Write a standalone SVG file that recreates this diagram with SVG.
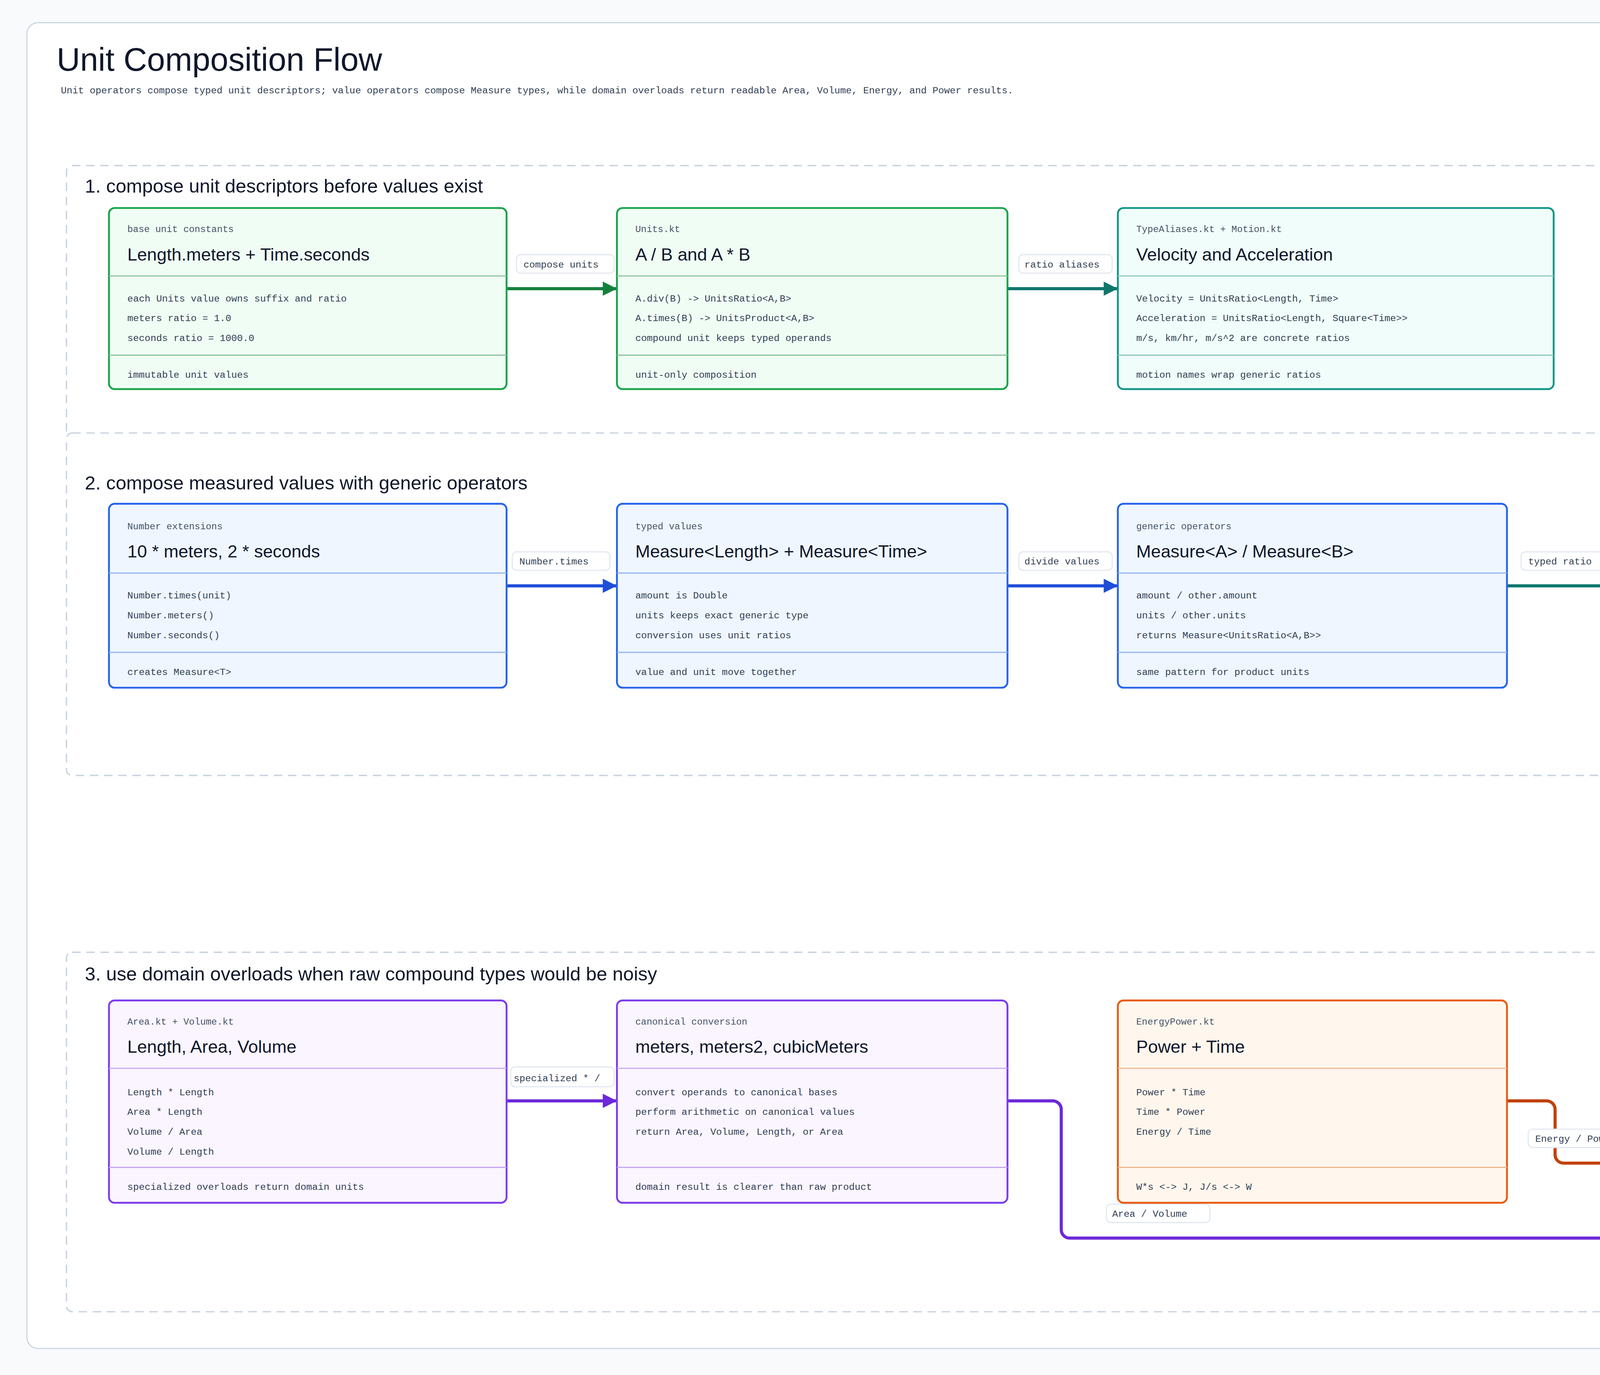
<svg xmlns="http://www.w3.org/2000/svg" width="5680" height="3520" viewBox="0 0 5680 3520">
<style>
.h{font-family:"Liberation Sans",Arial,sans-serif;fill:#0f172a}
.m{font-family:"Liberation Mono","DejaVu Sans Mono",monospace;fill:#334155;font-size:6.8px}
.sub{font-size:6.6px;fill:#475569}
.t{font-size:12.5px}
.sec{fill:none;stroke:#cbd5e1;stroke-width:1;stroke-dasharray:6 4}
.lb{fill:#fff;stroke:#e2e8f0;stroke-width:0.8}
.e{fill:none;stroke-width:2.2}
</style>
<defs>
<marker id="ag" markerUnits="userSpaceOnUse" markerWidth="10" markerHeight="10" refX="10" refY="5" orient="auto"><path d="M0,0L10,5L0,10z" fill="#15803d"/></marker>
<marker id="at" markerUnits="userSpaceOnUse" markerWidth="10" markerHeight="10" refX="10" refY="5" orient="auto"><path d="M0,0L10,5L0,10z" fill="#0f766e"/></marker>
<marker id="ab" markerUnits="userSpaceOnUse" markerWidth="10" markerHeight="10" refX="10" refY="5" orient="auto"><path d="M0,0L10,5L0,10z" fill="#1d4ed8"/></marker>
<marker id="ap" markerUnits="userSpaceOnUse" markerWidth="10" markerHeight="10" refX="10" refY="5" orient="auto"><path d="M0,0L10,5L0,10z" fill="#6d28d9"/></marker>
<marker id="ao" markerUnits="userSpaceOnUse" markerWidth="10" markerHeight="10" refX="10" refY="5" orient="auto"><path d="M0,0L10,5L0,10z" fill="#c2410c"/></marker>
<marker id="as" markerUnits="userSpaceOnUse" markerWidth="8" markerHeight="8" refX="8" refY="4" orient="auto"><path d="M0,0L8,4L0,8z" fill="#475569"/></marker>
<marker id="at2" markerUnits="userSpaceOnUse" markerWidth="8" markerHeight="8" refX="8" refY="4" orient="auto"><path d="M0,0L8,4L0,8z" fill="#0f766e"/></marker>
</defs>
<rect width="5680" height="3520" fill="#f8fafc"/>
<g transform="scale(3.6224)">
<rect x="19" y="16" width="1530" height="937" rx="8" fill="#fff" stroke="#cbd5e1" stroke-width="0.8"/>
<text class="h" x="40" y="50" font-size="23">Unit Composition Flow</text>
<text class="m" x="43" y="66" font-size="7.2">Unit operators compose typed unit descriptors; value operators compose Measure types, while domain overloads return readable Area, Volume, Energy, and Power results.</text>

<g id="sections">
<path class="sec" d="M47,305 V121 a4,4 0 0 1 4,-4 H1131 a4,4 0 0 1 4,4 V305"/>
<rect class="sec" x="47" y="306" width="1419" height="242" rx="4"/>
<rect class="sec" x="47" y="673" width="1419" height="254" rx="4"/>
<text class="h" x="60" y="136" font-size="13.5">1. compose unit descriptors before values exist</text>
<text class="h" x="60" y="346" font-size="13.5">2. compose measured values with generic operators</text>
<text class="h" x="60" y="693" font-size="13.5">3. use domain overloads when raw compound types would be noisy</text>
</g>

<g id="connectors">
<path class="e" stroke="#15803d" d="M358,204H436" marker-end="url(#ag)"/>
<path class="e" stroke="#0f766e" d="M712,204H790" marker-end="url(#at)"/>
<path class="e" stroke="#1d4ed8" d="M358,414H436" marker-end="url(#ab)"/>
<path class="e" stroke="#1d4ed8" d="M712,414H790" marker-end="url(#ab)"/>
<path class="e" stroke="#0f766e" d="M1065,414H1143" marker-end="url(#at)"/>
<path class="e" stroke="#0f766e" stroke-dasharray="6 4" d="M1286,496V533" marker-end="url(#at2)"/>
<path class="e" stroke="#475569" stroke-dasharray="6 4" d="M1286,654V801" marker-end="url(#as)"/>
<path class="e" stroke="#6d28d9" d="M358,778H436" marker-end="url(#ap)"/>
<path class="e" stroke="#6d28d9" d="M712,778H744a6,6 0 0 1 6,6V869a6,6 0 0 0 6,6H1143" marker-end="url(#ap)"/>
<path class="e" stroke="#c2410c" d="M1065,778H1093a6,6 0 0 1 6,6V816a6,6 0 0 0 6,6H1143" marker-end="url(#ao)"/>
<rect class="lb" x="365" y="180" width="69" height="13" rx="3"/><text class="m" x="370" y="189">compose units</text>
<rect class="lb" x="720" y="180" width="66" height="13" rx="3"/><text class="m" x="724" y="189">ratio aliases</text>
<rect class="lb" x="362" y="390" width="69" height="13" rx="3"/><text class="m" x="367" y="399">Number.times</text>
<rect class="lb" x="720" y="390" width="66" height="13" rx="3"/><text class="m" x="724" y="399">divide values</text>
<rect class="lb" x="1075" y="390" width="65" height="13" rx="3"/><text class="m" x="1080" y="399">typed ratio</text>
<rect class="lb" x="1292" y="510" width="65" height="13" rx="3"/><text class="m" x="1297" y="519">convert</text>
<rect class="lb" x="1292" y="722" width="65" height="13" rx="3"/><text class="m" x="1297" y="731">format too</text>
<rect class="lb" x="361" y="754" width="73" height="14" rx="3"/><text class="m" x="363" y="764">specialized * /</text>
<rect class="lb" x="782" y="851" width="73" height="13" rx="3"/><text class="m" x="786" y="860">Area / Volume</text>
<rect class="lb" x="1080" y="798" width="70" height="13" rx="3"/><text class="m" x="1085" y="807">Energy / Power</text>
</g>

<g id="n1"><rect x="77" y="147" width="281" height="128" rx="4" fill="#f0fdf4" stroke="#16a34a" stroke-width="1.3"/><path d="M77,195H358M77,251H358" stroke="#86c29a" stroke-width="0.8"/>
<text class="m sub" x="90" y="164">base unit constants</text><text class="h t" x="90" y="184">Length.meters + Time.seconds</text>
<text class="m" x="90" y="213">each Units value owns suffix and ratio</text><text class="m" x="90" y="227">meters ratio = 1.0</text><text class="m" x="90" y="241">seconds ratio = 1000.0</text>
<text class="m" x="90" y="267">immutable unit values</text></g>

<g id="n2"><rect x="436" y="147" width="276" height="128" rx="4" fill="#f0fdf4" stroke="#16a34a" stroke-width="1.3"/><path d="M436,195H712M436,251H712" stroke="#86c29a" stroke-width="0.8"/>
<text class="m sub" x="449" y="164">Units.kt</text><text class="h t" x="449" y="184">A / B and A * B</text>
<text class="m" x="449" y="213">A.div(B) -&gt; UnitsRatio&lt;A,B&gt;</text><text class="m" x="449" y="227">A.times(B) -&gt; UnitsProduct&lt;A,B&gt;</text><text class="m" x="449" y="241">compound unit keeps typed operands</text>
<text class="m" x="449" y="267">unit-only composition</text></g>

<g id="n3"><rect x="790" y="147" width="308" height="128" rx="4" fill="#f0fdfa" stroke="#0f9488" stroke-width="1.3"/><path d="M790,195H1098M790,251H1098" stroke="#8cc7bd" stroke-width="0.8"/>
<text class="m sub" x="803" y="164">TypeAliases.kt + Motion.kt</text><text class="h t" x="803" y="184">Velocity and Acceleration</text>
<text class="m" x="803" y="213">Velocity = UnitsRatio&lt;Length, Time&gt;</text><text class="m" x="803" y="227">Acceleration = UnitsRatio&lt;Length, Square&lt;Time&gt;&gt;</text><text class="m" x="803" y="241">m/s, km/hr, m/s^2 are concrete ratios</text>
<text class="m" x="803" y="267">motion names wrap generic ratios</text></g>

<g id="n4"><rect x="77" y="356" width="281" height="130" rx="4" fill="#eff6ff" stroke="#2563eb" stroke-width="1.3"/><path d="M77,405H358M77,461H358" stroke="#93b4f0" stroke-width="0.8"/>
<text class="m sub" x="90" y="374">Number extensions</text><text class="h t" x="90" y="394">10 * meters, 2 * seconds</text>
<text class="m" x="90" y="423">Number.times(unit)</text><text class="m" x="90" y="437">Number.meters()</text><text class="m" x="90" y="451">Number.seconds()</text>
<text class="m" x="90" y="477">creates Measure&lt;T&gt;</text></g>

<g id="n5"><rect x="436" y="356" width="276" height="130" rx="4" fill="#eff6ff" stroke="#2563eb" stroke-width="1.3"/><path d="M436,405H712M436,461H712" stroke="#93b4f0" stroke-width="0.8"/>
<text class="m sub" x="449" y="374">typed values</text><text class="h t" x="449" y="394">Measure&lt;Length&gt; + Measure&lt;Time&gt;</text>
<text class="m" x="449" y="423">amount is Double</text><text class="m" x="449" y="437">units keeps exact generic type</text><text class="m" x="449" y="451">conversion uses unit ratios</text>
<text class="m" x="449" y="477">value and unit move together</text></g>

<g id="n6"><rect x="790" y="356" width="275" height="130" rx="4" fill="#eff6ff" stroke="#2563eb" stroke-width="1.3"/><path d="M790,405H1065M790,461H1065" stroke="#93b4f0" stroke-width="0.8"/>
<text class="m sub" x="803" y="374">generic operators</text><text class="h t" x="803" y="394">Measure&lt;A&gt; / Measure&lt;B&gt;</text>
<text class="m" x="803" y="423">amount / other.amount</text><text class="m" x="803" y="437">units / other.units</text><text class="m" x="803" y="451">returns Measure&lt;UnitsRatio&lt;A,B&gt;&gt;</text>
<text class="m" x="803" y="477">same pattern for product units</text></g>

<g id="n7"><rect x="1143" y="356" width="287" height="140" rx="4" fill="#f0fdfa" stroke="#0f9488" stroke-width="1.3"/><path d="M1143,405H1430M1143,471H1430" stroke="#8cc7bd" stroke-width="0.8"/>
<text class="m sub" x="1156" y="374">typed result</text><text class="h t" x="1156" y="394">Measure&lt;Velocity&gt;</text>
<text class="m" x="1156" y="423">10.meters() / 2.seconds()</text><text class="m" x="1156" y="437">speed in m/s = 5.0</text><text class="m" x="1156" y="451">speed * 5.seconds() restores Length</text>
<text class="m" x="1156" y="487">(A/B) * B -&gt; A</text></g>

<g id="n8"><rect x="1143" y="533" width="287" height="121" rx="4" fill="#f8fafc" stroke="#64748b" stroke-width="1.3"/><path d="M1143,581H1430M1143,629H1430" stroke="#a3adba" stroke-width="0.8"/>
<text class="m sub" x="1156" y="550">presentation</text><text class="h t" x="1156" y="570">convert, `in`, `as`, toHuman()</text>
<text class="m" x="1156" y="600">convert values into target units</text><text class="m" x="1156" y="614">format concise human-readable output</text>
<text class="m" x="1156" y="645">examples display typed results</text></g>

<g id="n9"><rect x="77" y="707" width="281" height="143" rx="4" fill="#faf5ff" stroke="#7c3aed" stroke-width="1.3"/><path d="M77,755H358M77,825H358" stroke="#c4a5f5" stroke-width="0.8"/>
<text class="m sub" x="90" y="724">Area.kt + Volume.kt</text><text class="h t" x="90" y="744">Length, Area, Volume</text>
<text class="m" x="90" y="774">Length * Length</text><text class="m" x="90" y="788">Area * Length</text><text class="m" x="90" y="802">Volume / Area</text><text class="m" x="90" y="816">Volume / Length</text>
<text class="m" x="90" y="841">specialized overloads return domain units</text></g>

<g id="n10"><rect x="436" y="707" width="276" height="143" rx="4" fill="#faf5ff" stroke="#7c3aed" stroke-width="1.3"/><path d="M436,755H712M436,825H712" stroke="#c4a5f5" stroke-width="0.8"/>
<text class="m sub" x="449" y="724">canonical conversion</text><text class="h t" x="449" y="744">meters, meters2, cubicMeters</text>
<text class="m" x="449" y="774">convert operands to canonical bases</text><text class="m" x="449" y="788">perform arithmetic on canonical values</text><text class="m" x="449" y="802">return Area, Volume, Length, or Area</text>
<text class="m" x="449" y="841">domain result is clearer than raw product</text></g>

<g id="n11"><rect x="790" y="707" width="275" height="143" rx="4" fill="#fff7ed" stroke="#ea580c" stroke-width="1.3"/><path d="M790,755H1065M790,825H1065" stroke="#f0b48e" stroke-width="0.8"/>
<text class="m sub" x="803" y="724">EnergyPower.kt</text><text class="h t" x="803" y="744">Power + Time</text>
<text class="m" x="803" y="774">Power * Time</text><text class="m" x="803" y="788">Time * Power</text><text class="m" x="803" y="802">Energy / Time</text>
<text class="m" x="803" y="841">W*s &lt;-&gt; J, J/s &lt;-&gt; W</text></g>

<g id="n12"><rect x="1143" y="801" width="287" height="93" rx="4" fill="#f8fafc" stroke="#64748b" stroke-width="1.3"/><path d="M1143,849H1430" stroke="#a3adba" stroke-width="0.8"/>
<text class="m sub" x="1156" y="818">domain results</text><text class="h t" x="1156" y="838">Area, Volume, Energy, Power</text>
<text class="m" x="1156" y="868">specialized APIs hide compound internals</text><text class="m" x="1156" y="882">callers receive reader-friendly measure types</text></g>
</g>
</svg>
